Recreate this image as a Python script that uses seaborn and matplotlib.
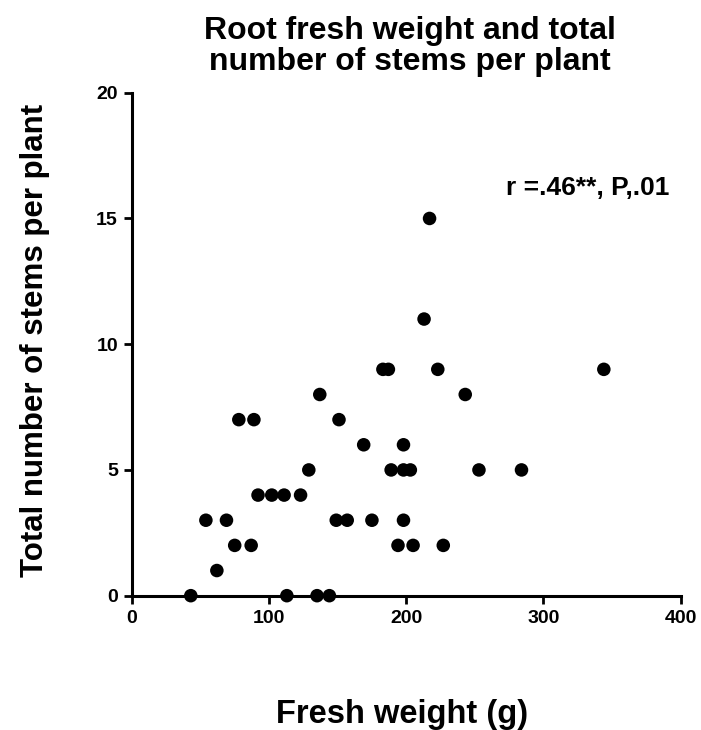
import seaborn as sns
import pandas as pd
import matplotlib.pyplot as plt

# root fresh weight (g) vs total stems per plant
fresh_weight = [43, 113, 135, 144, 62, 54, 69, 75, 87, 78, 89, 92, 102, 111, 123,
                129, 137, 151, 149, 157, 169, 175, 183, 187, 189, 198, 198, 203,
                198, 194, 205, 217, 213, 223, 344, 243, 253, 284, 227]
stems = [0, 0, 0, 0, 1, 3, 3, 2, 2, 7, 7, 4, 4, 4, 4,
         5, 8, 7, 3, 3, 6, 3, 9, 9, 5, 6, 5, 5,
         3, 2, 2, 15, 11, 9, 9, 8, 5, 5, 2]
x_ticks = [0, 100, 200, 300, 400]
y_ticks = [0, 5, 10, 15, 20]

data = pd.DataFrame({"weight": fresh_weight, "stems": stems})

sns.set_style("ticks", {"axes.edgecolor": "black", "text.color": "black",
                        "xtick.color": "black", "ytick.color": "black",
                        "axes.labelcolor": "black"})
plt.rcParams["font.family"] = ["Liberation Sans", "DejaVu Sans"]

fig = plt.figure(figsize=(7.01, 7.30), dpi=100)
ax = fig.add_axes([0.188, 0.184, 0.783, 0.689])
sns.scatterplot(x="weight", y="stems", data=data, color="black", s=95,
                edgecolor="none", ax=ax, clip_on=False, zorder=3)

ax.set_xlim(0, 400)
ax.set_ylim(0, 20)
ax.set_xticks(x_ticks)
ax.set_yticks(y_ticks)
ax.set_xticklabels([str(t) for t in x_ticks], fontsize=14, fontweight="bold")
ax.set_yticklabels([str(t) for t in y_ticks], fontsize=14, fontweight="bold")
ax.tick_params(width=2, length=6, pad=4)
for s in ["left", "bottom"]:
    ax.spines[s].set_linewidth(2.2)
sns.despine(ax=ax)
ax.set_xlabel("")
ax.set_ylabel("")

fig.text(0.585, 0.958, "Root fresh weight and total", ha="center", va="center",
         fontsize=23, fontweight="bold")
fig.text(0.585, 0.915, "number of stems per plant", ha="center", va="center",
         fontsize=23, fontweight="bold")
fig.text(0.05, 0.533, "Total number of stems per plant", rotation=90, ha="center",
         va="center", fontsize=22.5, fontweight="bold")
fig.text(0.573, 0.021, "Fresh weight (g)", ha="center", va="center",
         fontsize=23.5, fontweight="bold")
ax.text(0.98, 0.81, "r =.46**, P,.01", transform=ax.transAxes, ha="right",
        va="center", fontsize=19, fontweight="bold")

fig.savefig("out.png", dpi=100)
